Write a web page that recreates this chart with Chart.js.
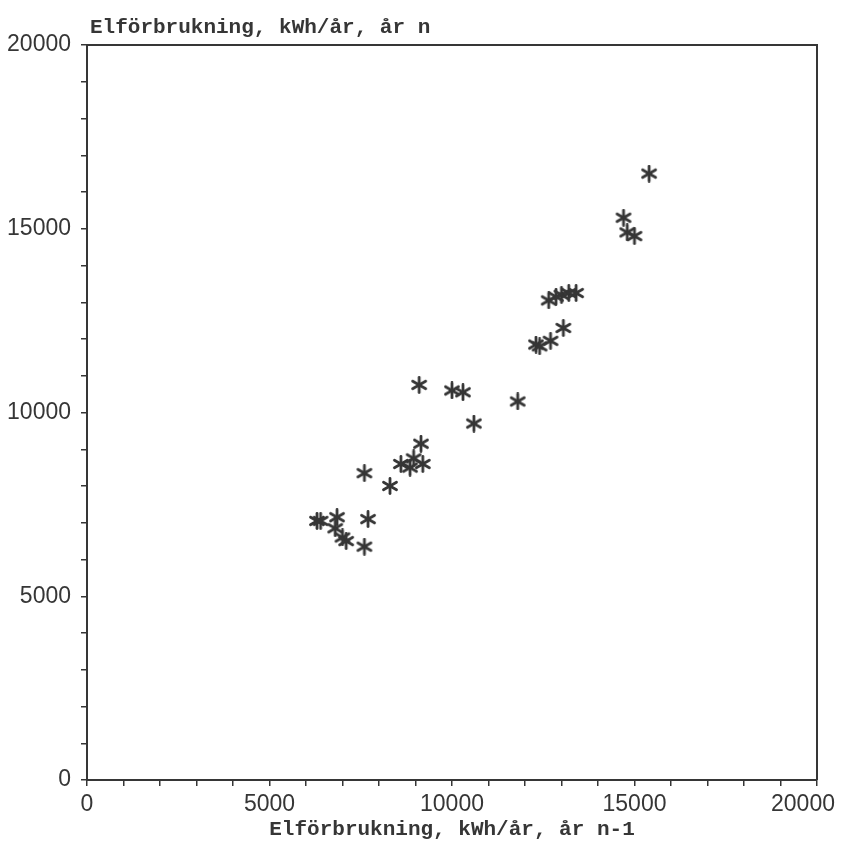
<!DOCTYPE html>
<html>
<head>
<meta charset="utf-8">
<script src="https://cdn.jsdelivr.net/npm/chart.js@4/dist/chart.umd.min.js"></script>
<style>
  html, body { margin: 0; padding: 0; background: #ffffff; }
  #wrap { width: 846px; height: 842px; }
</style>
</head>
<body>
<div id="wrap"><canvas id="c" width="846" height="842"></canvas></div>
<script>
// Electricity use per household: previous year (n-1) vs current year (n), kWh/year
const usagePrevYear = [6300, 6400, 6850, 6800, 7000, 7100, 7600, 7700, 7600, 8300,
  8600, 8850, 8950, 9200, 9150, 9100, 10000, 10300, 10600, 11800,
  12300, 12400, 12700, 13050, 12650, 12850, 13000, 13200, 13400,
  14700, 14800, 15000, 15400];
const usageThisYear = [7050, 7050, 7150, 6850, 6600, 6500, 6350, 7100, 8350, 8000,
  8600, 8500, 8750, 8600, 9150, 10750, 10600, 10550, 9700, 10300,
  11850, 11800, 11950, 12300, 13050, 13150, 13200, 13250, 13250,
  15300, 14900, 14800, 16500];

const axisMin = 0;
const axisMax = 20000;
const labelledTicks = [0, 5000, 10000, 15000, 20000];
const xTitle = 'Elförbrukning, kWh/år, år n-1';
const yTitle = 'Elförbrukning, kWh/år, år n';

const ink = '#363636';
const monoFont = '"Liberation Mono", "DejaVu Sans Mono", monospace';
const sansFont = '"Liberation Sans", Arial, sans-serif';

// Six-armed asterisk marker
function makeAsterisk(size, color) {
  const cv = document.createElement('canvas');
  cv.width = size; cv.height = size;
  const g = cv.getContext('2d');
  const c = size / 2, r = size / 2 - 1.5;
  g.strokeStyle = color;
  g.lineWidth = 2.8;
  g.lineCap = 'round';
  [90, 30, 150].forEach(a => {
    const t = a * Math.PI / 180;
    g.beginPath();
    g.moveTo(c - r * Math.cos(t), c - r * Math.sin(t));
    g.lineTo(c + r * Math.cos(t), c + r * Math.sin(t));
    g.stroke();
  });
  return cv;
}
const asterisk = makeAsterisk(18, ink);

const points = usagePrevYear.map((x, i) => ({ x: x, y: usageThisYear[i] }));

// Frame around the plot, the y-axis caption above it, and keep the last
// x tick label inside the canvas
const framePlugin = {
  id: 'frame',
  beforeDraw(chart) {
    const items = chart.scales.x.getLabelItems();
    const last = items[items.length - 1];
    if (last && last.label !== '' && !last._shifted) {
      last.options.translation[0] -= 14;
      last._shifted = true;
    }
  },
  beforeDatasetsDraw(chart) {
    const { ctx, chartArea: a } = chart;
    ctx.save();
    ctx.strokeStyle = ink;
    ctx.lineWidth = 2;
    ctx.beginPath();
    ctx.moveTo(a.left, a.top);
    ctx.lineTo(a.right, a.top);
    ctx.lineTo(a.right, a.bottom);
    ctx.stroke();
    ctx.restore();
  },
  afterDraw(chart) {
    const { ctx, chartArea: a } = chart;
    ctx.save();
    ctx.fillStyle = ink;
    ctx.font = 'bold 21px ' + monoFont;
    ctx.textAlign = 'left';
    ctx.textBaseline = 'alphabetic';
    ctx.fillText(yTitle, a.left + 3, a.top - 12);
    ctx.restore();
  }
};

const tickLabel = v => (labelledTicks.includes(v) ? String(v) : '');

new Chart(document.getElementById('c'), {
  type: 'scatter',
  data: {
    datasets: [{
      data: points,
      pointStyle: asterisk,
      pointRadius: 9,
      pointHoverRadius: 9
    }]
  },
  options: {
    responsive: false,
    animation: false,
    events: [],
    layout: { padding: { top: 45, right: 29, left: 0, bottom: 0 } },
    plugins: { legend: { display: false }, tooltip: { enabled: false } },
    scales: {
      x: {
        type: 'linear',
        min: axisMin,
        max: axisMax,
        border: { display: true, color: ink, width: 2 },
        grid: { drawOnChartArea: false, drawTicks: true, tickLength: 6, color: ink, lineWidth: 1.5 },
        ticks: {
          stepSize: 1000,
          autoSkip: false,
          maxRotation: 0,
          padding: 5,
          color: ink,
          font: { family: sansFont, size: 23 },
          callback: tickLabel
        },
        title: {
          display: true,
          text: xTitle,
          color: ink,
          font: { family: monoFont, size: 21, weight: 'bold' },
          padding: { top: 0, bottom: 0 }
        },
        afterFit(s) { s.height = 62; s.paddingLeft = 0; s.paddingRight = 0; }
      },
      y: {
        type: 'linear',
        min: axisMin,
        max: axisMax,
        border: { display: true, color: ink, width: 2 },
        grid: { drawOnChartArea: false, drawTicks: true, tickLength: 6, color: ink, lineWidth: 1.5 },
        ticks: {
          stepSize: 1000,
          autoSkip: false,
          padding: 10,
          color: ink,
          font: { family: sansFont, size: 23 },
          callback: tickLabel
        },
        afterFit(s) { s.width = 87; s.paddingTop = 0; s.paddingBottom = 0; }
      }
    }
  },
  plugins: [framePlugin]
});
</script>
</body>
</html>
